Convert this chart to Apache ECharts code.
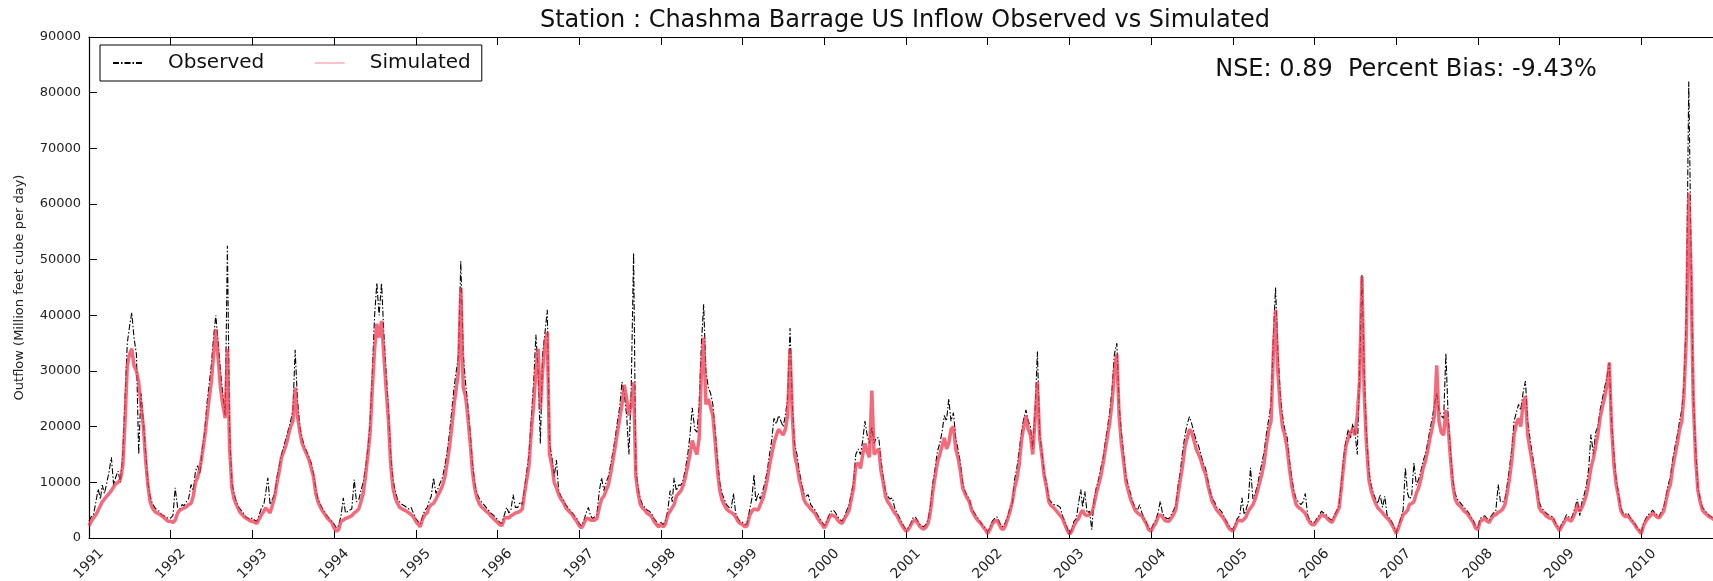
<!DOCTYPE html>
<html>
<head>
<meta charset="utf-8">
<title>Chashma Barrage US Inflow Observed vs Simulated</title>
<script src="https://cdn.jsdelivr.net/npm/echarts@6/dist/echarts.min.js"></script>
<style>
  html, body { margin: 0; padding: 0; background: #fff; }
  #chart { width: 1713px; height: 581px; }
</style>
</head>
<body>
<div id="chart"></div>
<script>
// x axis years, 3 readings per month (1st, 11th, 21st)
const years = [1991, 1992, 1993, 1994, 1995, 1996, 1997, 1998, 1999, 2000,
  2001, 2002, 2003, 2004, 2005, 2006, 2007, 2008, 2009, 2010];
const readDays = [1, 11, 21];
const yTicks = [0, 10000, 20000, 30000, 40000, 50000, 60000, 70000, 80000, 90000];

// observed inflow (black dash-dot)
const observed = [
  3000, 3800, 4200, 6500, 8800, 7000, 9500, 8000, 9800, 12000, 14500, 9500, 11000, 12000, 10000, 15000, 25000, 35000, 38000, 40500, 36000, 33000, 15000, 26000, 21000, 15500, 10000, 7500, 6200, 5500, 5000, 4800, 4200, 4000, 3800, 3500,
  3600, 4000, 9000, 5500, 5200, 6000, 5800, 6500, 7000, 9600, 8500, 12000, 13000, 11500, 16000, 19000, 24000, 27500, 31000, 36000, 40000, 35000, 30000, 26000, 22000, 52500, 19000, 10000, 8000, 6500, 5500, 5000, 4500, 3800, 3600, 3300,
  3600, 3200, 3000, 4200, 5500, 6000, 8000, 10800, 6000, 7000, 8000, 11000, 13000, 15000, 16500, 18000, 19500, 21000, 23000, 33800, 25000, 20000, 18000, 16500, 15500, 14500, 13500, 11500, 9000, 7000, 6000, 5200, 4600, 4000, 3500, 3000,
  2500, 1800, 2200, 4000, 7200, 4500, 4300, 5000, 5200, 10500, 6500, 6800, 8500, 10000, 12500, 16000, 21000, 30000, 40000, 45800, 40000, 45800, 37000, 30000, 23000, 15000, 10500, 8500, 7000, 6500, 6000, 5800, 5500, 5200, 5500, 4500,
  3500, 3000, 2500, 4000, 5000, 5500, 6500, 7500, 10800, 8000, 9000, 10000, 11000, 13000, 15500, 19000, 23000, 27000, 30000, 33000, 49700, 33000, 28000, 24000, 19000, 13500, 10000, 8000, 7200, 6500, 6000, 5500, 5000, 4500, 4200, 3800,
  3300, 2800, 2600, 4200, 5500, 4500, 5000, 7800, 5500, 5500, 6500, 6000, 9000, 12000, 15000, 22000, 28000, 36500, 30000, 17000, 33000, 37000, 41000, 17000, 14500, 11000, 14000, 8500, 7500, 7000, 6000, 5500, 5000, 4500, 4000, 3500,
  2600, 2200, 3000, 4500, 5500, 4000, 3500, 3800, 4200, 8500, 10800, 8500, 10000, 11000, 13000, 15500, 18000, 21000, 23500, 28000, 26000, 22000, 15000, 26000, 51200, 12500, 9000, 7000, 6000, 5500, 5000, 4800, 4300, 3500, 3000, 2400,
  2800, 2400, 3000, 5000, 8500, 6500, 10800, 8500, 9500, 9500, 10500, 12500, 15000, 18500, 23400, 19500, 19000, 24000, 35000, 42000, 30000, 27000, 26000, 24000, 19000, 14000, 10000, 8000, 7000, 6000, 5500, 5300, 8000, 4500, 3500, 3000,
  2800, 2400, 2600, 5000, 7000, 11400, 6500, 8000, 7000, 8500, 10000, 12000, 15000, 17500, 21500, 20500, 22000, 21000, 20000, 22000, 25000, 37700, 24000, 17000, 15000, 12000, 10000, 8000, 7500, 7800, 6000, 5500, 5000, 4200, 3500, 3000,
  2200, 3000, 4000, 4800, 5000, 4500, 3800, 3300, 3000, 4000, 5000, 6000, 8000, 10000, 15000, 16000, 15000, 17500, 21000, 18500, 17000, 20000, 17000, 18000, 18000, 14000, 11000, 8500, 7500, 7000, 7200, 5500, 4500, 3800, 3000, 2200,
  1500, 1800, 2500, 3600, 3800, 3200, 2600, 2200, 2000, 2500, 3500, 6000, 10000, 12500, 15500, 17000, 19000, 22000, 21000, 25000, 21000, 22500, 18000, 16000, 13500, 10000, 8500, 7600, 7000, 5500, 4600, 4000, 3400, 2800, 2200, 1800,
  1200, 1800, 3000, 3500, 3800, 3000, 2200, 2000, 2800, 4000, 5500, 6000, 10500, 12500, 15500, 19000, 21500, 23000, 21000, 20000, 16000, 23000, 33500, 19000, 15000, 11500, 10000, 7000, 6500, 6000, 6000, 5800, 5500, 4000, 3000, 2000,
  500, 1500, 3000, 3500, 6300, 8700, 5500, 8400, 4500, 4800, 1500, 7000, 9000, 10500, 12500, 14500, 17500, 20000, 23000, 27000, 33000, 35000, 24000, 19000, 15000, 11000, 9500, 8000, 6500, 5500, 5000, 6000, 4500, 3500, 2800, 1800,
  1500, 2500, 3200, 4500, 6600, 4500, 3800, 3500, 3500, 4200, 5000, 6000, 9500, 12000, 15500, 18500, 20500, 21800, 20500, 19000, 17500, 16500, 15000, 13500, 12500, 10500, 8500, 7000, 6500, 5500, 5200, 4800, 4000, 3200, 2500, 1800,
  1500, 2500, 3500, 4000, 7200, 4200, 5000, 6500, 12600, 7000, 8000, 9500, 11500, 13500, 15500, 19000, 21500, 24000, 36000, 45000, 34000, 26000, 22000, 19500, 18000, 14000, 11000, 8500, 7000, 6500, 6000, 6500, 8000, 4200, 3200, 2800,
  2800, 3500, 4000, 4800, 4500, 4200, 3800, 3400, 3200, 4200, 5000, 6000, 10000, 14500, 17500, 19500, 18000, 20500, 19000, 15000, 29000, 47300, 30000, 19000, 12000, 9500, 8000, 7000, 6200, 7800, 5500, 7500, 4200, 3600, 3000, 2200,
  1000, 2200, 3500, 5000, 12600, 8000, 7000, 7500, 13500, 9500, 10500, 12000, 13800, 15000, 17000, 19500, 21500, 24000, 26000, 23000, 22000, 21500, 33200, 22000, 15500, 10500, 8000, 7000, 6500, 6000, 5500, 5000, 4500, 3800, 3200, 2200,
  1800, 3500, 3800, 4000, 3500, 3200, 4000, 4500, 4800, 9600, 6500, 6500, 7000, 9500, 12500, 16000, 21000, 22500, 24000, 23000, 26000, 28200, 21000, 18000, 15000, 12500, 9500, 6500, 5500, 5000, 4500, 4200, 4000, 3800, 3000, 2200,
  1600, 2600, 3200, 4200, 3800, 3500, 4200, 5500, 7000, 4000, 6500, 7800, 9500, 12500, 18600, 15000, 19000, 20000, 23000, 25000, 27000, 29000, 31500, 21000, 15000, 10500, 8000, 5500, 4500, 4200, 4500, 3800, 3200, 2800, 2000, 1600,
  1000, 2600, 3500, 4200, 4500, 5000, 4600, 4200, 3800, 4800, 5500, 7500, 9500, 11000, 14000, 16500, 18500, 21000, 23000, 28000, 40000, 82000, 52000, 26000, 16000, 9000, 7000, 5500, 5000, 4500, 4000, 3800, 3500, 3200, 2800, 2400
];

// simulated inflow (red)
const simulated = [
  2200, 3000, 3600, 4200, 5000, 5800, 6500, 7000, 7500, 8000, 8500, 9200, 9800, 10000, 10500, 13000, 21000, 31000, 33000, 34000, 31000, 30000, 28000, 24000, 20000, 14000, 9500, 6500, 5400, 4800, 4500, 4300, 4000, 3700, 3300, 3000,
  3000, 2800, 3200, 4500, 5000, 5200, 5400, 5600, 6000, 6200, 7500, 10000, 11000, 12500, 15000, 18000, 21500, 25000, 28000, 33000, 37500, 32000, 27000, 24000, 21500, 34000, 16000, 9000, 7000, 6000, 5000, 4400, 4000, 3600, 3400, 3100,
  3000, 2800, 2600, 3500, 4200, 4800, 5400, 5000, 4500, 6000, 7500, 10000, 12000, 14500, 15500, 16800, 18500, 20000, 21000, 27000, 22000, 19000, 17000, 16000, 15000, 14000, 12500, 11000, 8000, 6500, 5500, 4800, 4200, 3600, 3200, 2800,
  1800, 1200, 1500, 3000, 3200, 3500, 3600, 3800, 4000, 4500, 4800, 5200, 6500, 8000, 11000, 15000, 19000, 27000, 34000, 38500, 36000, 39000, 33000, 27000, 21000, 13000, 9000, 7200, 6200, 5500, 5200, 5000, 4800, 4500, 4200, 3800,
  3000, 2500, 2000, 3500, 4200, 4500, 5500, 6000, 6200, 7000, 7800, 8500, 9500, 11000, 13500, 16500, 20000, 24000, 27000, 30000, 45000, 27000, 25500, 22000, 17000, 12000, 9000, 7200, 6200, 5600, 5200, 4800, 4500, 4000, 3600, 3200,
  2800, 2400, 2200, 3500, 3700, 3600, 4000, 4200, 4500, 4600, 4800, 5200, 8000, 10500, 13000, 19500, 24000, 30000, 34000, 23000, 30000, 35000, 37000, 15000, 13000, 10000, 9000, 7800, 7000, 6500, 5500, 5000, 4600, 4200, 3500, 3000,
  2200, 1800, 2500, 3500, 3500, 3200, 3000, 3200, 3500, 5500, 7000, 7500, 8500, 9500, 11500, 14000, 16500, 19000, 21500, 24000, 27500, 25000, 22000, 24000, 28000, 11000, 8000, 6000, 5400, 5000, 4400, 4200, 3800, 3000, 2500, 2000,
  2400, 2000, 2500, 4200, 4800, 5500, 6000, 7500, 8000, 8500, 9500, 11000, 13000, 15000, 17500, 16000, 15000, 18000, 30000, 36000, 24000, 25000, 23500, 22000, 17000, 12000, 8500, 6800, 6000, 5200, 4800, 4600, 4300, 3800, 3000, 2600,
  2400, 2000, 2200, 4000, 4800, 5200, 5500, 5000, 6000, 7000, 8500, 10500, 13000, 15000, 17000, 18500, 19500, 19000, 18500, 19500, 22000, 34000, 22000, 15000, 13000, 10500, 9000, 7000, 6200, 5800, 5200, 4800, 4400, 3600, 3000, 2500,
  1800, 2500, 3500, 4200, 4000, 3800, 3200, 2800, 2600, 3500, 4200, 5000, 7000, 9000, 13000, 13500, 12500, 15000, 17000, 15500, 14500, 26500, 15000, 15500, 16000, 12000, 10000, 7500, 6500, 6000, 5200, 4500, 4000, 3200, 2500, 1800,
  1200, 1500, 2200, 3000, 3200, 2800, 2200, 1800, 1600, 2000, 2800, 5000, 8500, 11000, 13500, 15000, 16500, 18000, 16000, 17000, 19500, 20000, 16000, 14500, 12000, 9000, 8000, 7200, 6500, 5000, 4200, 3500, 3000, 2600, 2000, 1500,
  800, 1500, 2500, 3000, 3200, 2500, 1800, 1500, 2200, 3500, 4800, 6500, 9000, 10500, 13000, 17500, 20000, 22000, 19500, 18500, 15000, 21500, 28000, 18000, 14500, 11000, 9000, 6500, 5800, 5500, 5000, 4500, 4000, 3500, 2500, 1500,
  700, 1200, 2200, 3000, 3500, 4500, 5000, 4200, 4000, 4200, 4500, 6000, 8000, 9500, 11000, 13500, 16000, 18500, 21000, 24500, 30000, 33000, 22000, 17000, 13500, 10000, 8500, 7000, 6000, 5000, 4500, 4200, 4000, 3200, 2500, 1500,
  1200, 2000, 2600, 3800, 4200, 3800, 3200, 3000, 3000, 3600, 4200, 5200, 8000, 10500, 13000, 16500, 18000, 19500, 19000, 17500, 16000, 15000, 14000, 12500, 11500, 9500, 8000, 6500, 5800, 5000, 4500, 4000, 3500, 2800, 2000, 1500,
  1200, 2000, 3000, 3200, 3000, 3400, 3800, 4800, 5400, 6000, 7000, 8400, 10000, 11500, 13500, 17000, 19500, 21000, 33000, 41000, 30000, 23500, 20000, 18500, 16000, 12500, 9500, 7500, 6000, 5500, 5200, 4800, 4400, 3500, 2800, 2400,
  2400, 3000, 3500, 4200, 4000, 3800, 3400, 3000, 2800, 3800, 4600, 5400, 9000, 13000, 16500, 18000, 19000, 19500, 18500, 22000, 28000, 47000, 26000, 17000, 10500, 8500, 7200, 6200, 5400, 5000, 4500, 4000, 3600, 3200, 2500, 1800,
  800, 1800, 3000, 4200, 4500, 5000, 6000, 6200, 6500, 8000, 9000, 10500, 12500, 13800, 15500, 18000, 19800, 22000, 31000, 21000, 19000, 18500, 23000, 20000, 14000, 9500, 7000, 6200, 5800, 5400, 4800, 4500, 4000, 3400, 2800, 1800,
  1500, 3000, 3200, 3600, 3000, 2800, 3500, 4000, 4200, 4600, 4800, 5200, 6000, 8000, 10500, 14000, 18500, 20500, 21500, 20000, 24000, 25500, 18500, 16000, 13500, 11000, 8500, 5500, 4800, 4500, 4000, 3700, 3500, 3500, 2600, 2000,
  1300, 2200, 2800, 3600, 3300, 3000, 3600, 4500, 6000, 4800, 5500, 6500, 7800, 10000, 12600, 14300, 16500, 18600, 21600, 23500, 25200, 27600, 31500, 20000, 13000, 9500, 7500, 5000, 4200, 3800, 4000, 3500, 3000, 2500, 1800, 1300,
  800, 2200, 3000, 3600, 4000, 4500, 4200, 3800, 3600, 4200, 4800, 6600, 8500, 9600, 12600, 15000, 17000, 19500, 21000, 26000, 36000, 62000, 48000, 25000, 14000, 8500, 6500, 5000, 4500, 4200, 3800, 3600, 3300, 3000, 2600, 2200
];

const font = 'DejaVu Sans';

// reading dates as fractional years (x positions come from the value axis)
const dateX = [];
years.forEach(y => {
  const start = Date.UTC(y, 0, 1);
  const len = Date.UTC(y + 1, 0, 1) - start;
  for (let m = 0; m < 12; m++) {
    readDays.forEach(d => dateX.push(y + (Date.UTC(y, m, d) - start) / len));
  }
});
const obsData = dateX.map((x, i) => [x, observed[i]]);
const simData = dateX.map((x, i) => [x, simulated[i]]);

const xMin = years[0];
const xMax = years[years.length - 1] + 1;

const chart = echarts.init(document.getElementById('chart'), null, { renderer: 'canvas' });

const xAxisBase = {
  type: 'value',
  min: xMin,
  max: xMax,
  interval: 1,
  axisLine: { show: true, onZero: false, lineStyle: { color: '#000', width: 1.2 } },
  axisTick: { show: true, inside: true, length: 8, lineStyle: { color: '#000' } },
  splitLine: { show: false }
};

const option = {
  backgroundColor: '#fff',
  animation: false,
  textStyle: { fontFamily: font },
  // the plot runs a little past the right edge of the picture (cropped figure)
  grid: { left: 89, top: 37, width: 1634, height: 501, containLabel: false, outerBoundsMode: 'none' },
  legend: {
    left: 100,
    top: 45,
    data: [
      { name: 'Observed' },
      { name: 'Simulated', lineStyle: { width: 1, opacity: 0.6 } }
    ],
    itemWidth: 30,
    itemHeight: 12,
    itemGap: 50,
    itemStyle: { opacity: 0 },
    padding: [8, 11, 8, 12],
    borderColor: '#000',
    borderWidth: 1,
    backgroundColor: '#fff',
    textStyle: { fontSize: 20, fontFamily: font, color: '#111', padding: [0, 0, 0, 20] }
  },
  graphic: [
    {
      type: 'text', x: 905, y: 21,
      style: {
        text: 'Station : Chashma Barrage US Inflow Observed vs Simulated',
        font: '24px "DejaVu Sans"', fill: '#111', align: 'center', verticalAlign: 'middle'
      }
    },
    {
      type: 'text', x: 1406, y: 70,
      style: {
        text: 'NSE: 0.89  Percent Bias: -9.43%',
        font: '24px "DejaVu Sans"', fill: '#111', align: 'center', verticalAlign: 'middle'
      }
    }
  ],
  xAxis: [
    Object.assign({}, xAxisBase, {
      position: 'bottom',
      axisLabel: {
        formatter: v => String(Math.round(v)),
        showMaxLabel: false,
        rotate: 45, align: 'center', verticalAlign: 'middle', margin: 26,
        fontSize: 14, color: '#222', fontFamily: font
      }
    }),
    Object.assign({}, xAxisBase, {
      position: 'top',
      axisLabel: { show: false }
    })
  ],
  yAxis: {
    type: 'value',
    min: yTicks[0],
    max: yTicks[yTicks.length - 1],
    interval: yTicks[1] - yTicks[0],
    name: 'Outflow (Million feet cube per day)',
    nameLocation: 'middle',
    nameGap: 63,
    nameTextStyle: { fontSize: 13, color: '#222', fontFamily: font },
    axisLine: { show: true, lineStyle: { color: '#000', width: 1.2 } },
    axisTick: { show: true, inside: true, length: 8, lineStyle: { color: '#000' } },
    axisLabel: { formatter: v => String(v), fontSize: 13, color: '#222', margin: 8, fontFamily: font },
    splitLine: { show: false }
  },
  series: [
    {
      name: 'Observed',
      type: 'line',
      xAxisIndex: 0,
      data: obsData,
      symbol: 'none',
      color: '#000',
      lineStyle: { color: '#000', width: 1.1, type: [6, 2, 1.5, 2] },
      z: 2
    },
    {
      name: 'Simulated',
      type: 'line',
      xAxisIndex: 0,
      data: simData,
      symbol: 'none',
      color: '#f2384f',
      lineStyle: { color: '#f2384f', width: 3.5, opacity: 0.75 },
      z: 3
    }
  ]
};

chart.setOption(option);
</script>
</body>
</html>
